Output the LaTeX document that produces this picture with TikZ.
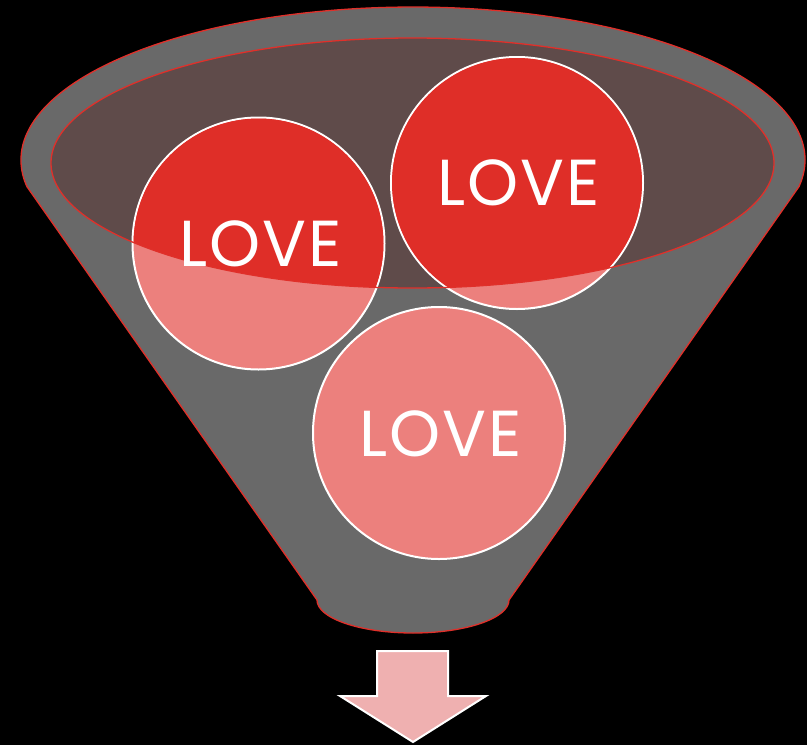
\documentclass[tikz,border=0pt]{standalone}
\usepackage{fontspec}
\setmainfont{Poppins}
\newfontfamily\lovefont[LetterSpace=3]{Poppins}
\definecolor{fgray}{HTML}{696969}
\definecolor{innerc}{HTML}{5F4B4A}
\definecolor{lred}{HTML}{DF2E28}
\definecolor{pinkc}{HTML}{EC807D}
\definecolor{arrowc}{HTML}{EFB0B0}
\definecolor{edgered}{HTML}{E0302A}
\tikzset{
  circ/.style={circle, minimum size=252pt, inner sep=0pt, fill=pinkc, draw=white, line width=2pt},
  lovetext/.style={text=white, font=\lovefont\fontsize{65}{70}\selectfont, inner sep=0pt, anchor=base},
  funnelline/.style={draw=edgered, line width=1.3pt},
}
\begin{document}
\begin{tikzpicture}[x=1pt,y=-1pt]
\fill[black] (0,0) rectangle (807,745);
\useasboundingbox (0,0) rectangle (807,745);
% funnel body
\draw[funnelline, fill=fgray] (799,186.6)
  arc[start angle=-10, end angle=190, x radius=392pt, y radius=153pt]
  -- (317,600)
  arc[start angle=180, end angle=360, x radius=96pt, y radius=33pt]
  -- cycle;
% inner ellipse
\coordinate (ec) at (412.5,163);
\fill[innerc] (ec) ellipse[x radius=361.5pt, y radius=125pt];
% circles
\node[circ] (c1) at (258.5,243.5) {};
\node[circ] (c2) at (517,183) {};
\node[circ] (c3) at (439,433) {};
\begin{scope}
  \clip (ec) ellipse[x radius=361.5pt, y radius=125pt];
  \fill[lred] (c1.center) circle[radius=125pt];
  \fill[lred] (c2.center) circle[radius=125pt];
\end{scope}
\draw[funnelline] (ec) ellipse[x radius=361.5pt, y radius=125pt];
% texts
\node[lovetext] (t1) at (261,266) {LOVE};
\node[lovetext] (t2) at (518.5,205) {LOVE};
\node[lovetext] (t3) at (441,456) {LOVE};
% arrow
\draw[fill=arrowc, draw=white, line width=2pt] (377,651) -- (448,651) -- (448,696) -- (486,696) -- (413,742) -- (340,696) -- (377,696) -- cycle;
\end{tikzpicture}
\end{document}
